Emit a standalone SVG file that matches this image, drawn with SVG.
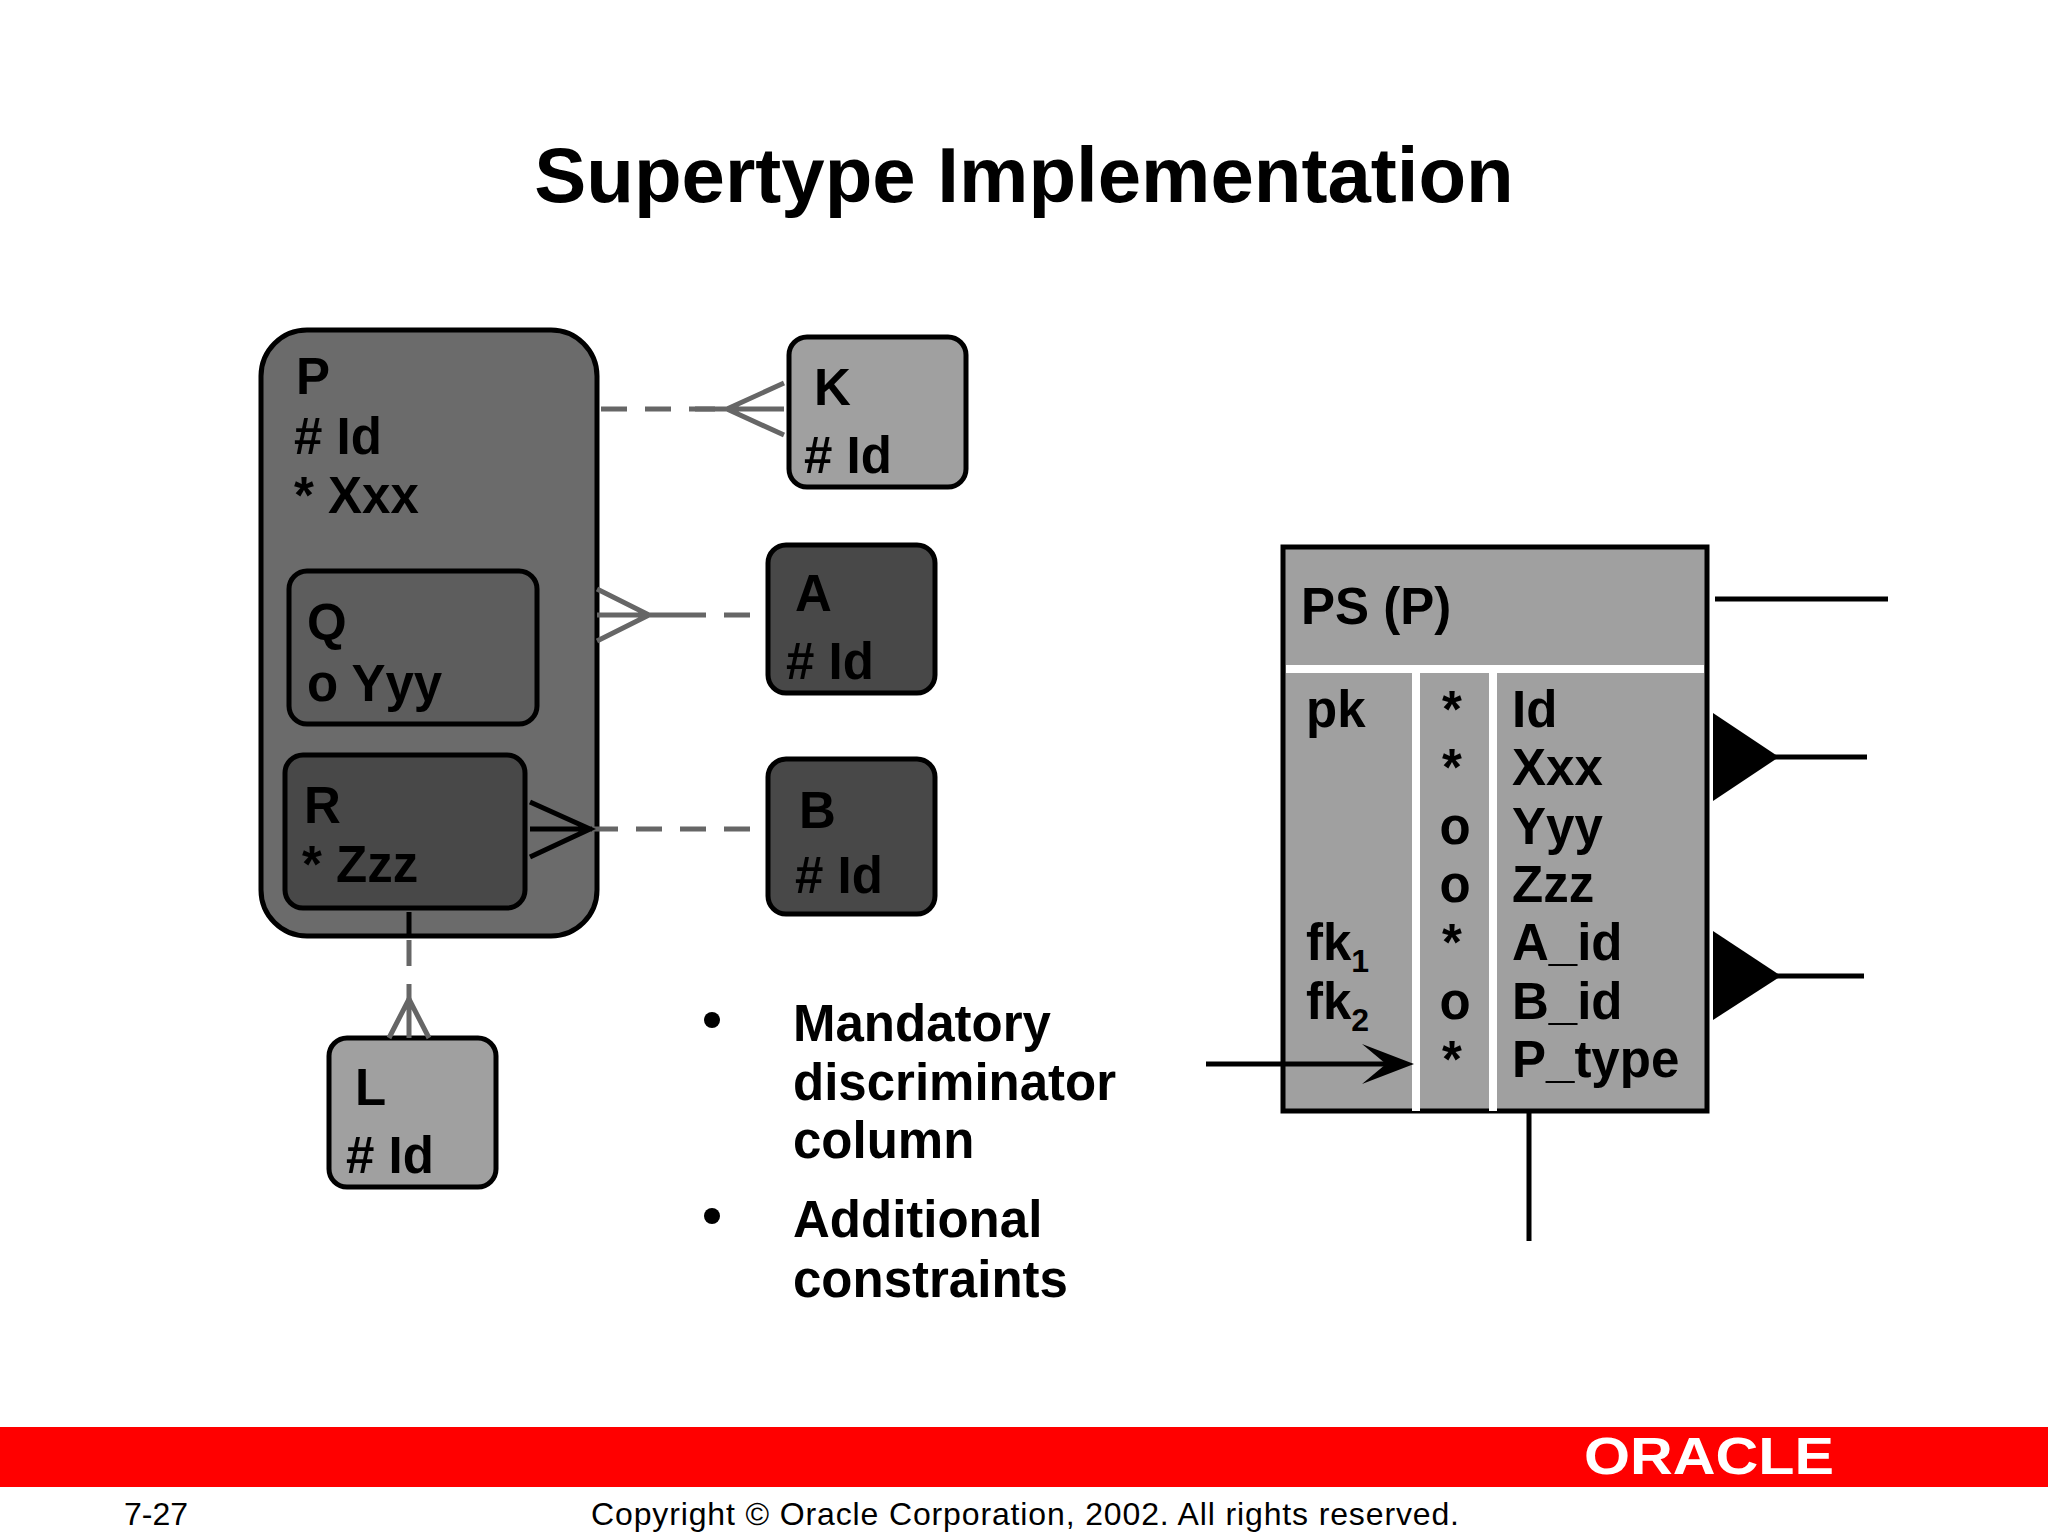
<svg xmlns="http://www.w3.org/2000/svg" width="2048" height="1536" viewBox="0 0 2048 1536">
<style>
text{font-family:"Liberation Sans",Arial,sans-serif;font-weight:bold;fill:#000}
.t{font-size:51px}
.box{stroke:#000;stroke-width:5}
.g{stroke:#666;stroke-width:5;fill:none}
.gd{stroke:#666;stroke-width:5;fill:none;stroke-dasharray:26 18}
.k{stroke:#000;stroke-width:5;fill:none}
.w{stroke:#fff;stroke-width:8}
</style>
<rect width="2048" height="1536" fill="#fff"/>
<text x="1024" y="202" font-size="78" text-anchor="middle">Supertype Implementation</text>

<g id="P"><rect class="box" x="261" y="330" width="336" height="606" rx="46" fill="#6b6b6b"/>
<text class="t" x="296" y="394">P</text><text class="t" x="294" y="454"># Id</text><text class="t" x="294" y="513">* Xxx</text></g>
<g id="Q"><rect class="box" x="289" y="571" width="248" height="153" rx="18" fill="#5d5d5d"/>
<text class="t" x="307" y="640">Q</text><text class="t" x="307" y="701">o Yyy</text></g>
<g id="R"><rect class="box" x="285" y="755" width="240" height="153" rx="18" fill="#484848"/>
<text class="t" x="304" y="823">R</text><text class="t" x="302" y="882">* Zzz</text></g>
<g id="K"><rect class="box" x="789" y="337" width="177" height="150" rx="18" fill="#a0a0a0"/>
<text class="t" x="814" y="405">K</text><text class="t" x="804" y="473"># Id</text></g>
<g id="A"><rect class="box" x="768" y="545" width="167" height="148" rx="18" fill="#484848"/>
<text class="t" x="795" y="611">A</text><text class="t" x="786" y="679"># Id</text></g>
<g id="B"><rect class="box" x="768" y="759" width="167" height="155" rx="18" fill="#484848"/>
<text class="t" x="799" y="828">B</text><text class="t" x="795" y="893"># Id</text></g>
<g id="L"><rect class="box" x="329" y="1038" width="167" height="149" rx="18" fill="#a0a0a0"/>
<text class="t" x="355" y="1105">L</text><text class="t" x="346" y="1173"># Id</text></g>

<g id="PS">
<rect class="box" x="1283" y="547" width="424" height="564" fill="#a0a0a0"/>
<line class="w" x1="1286" y1="669" x2="1704" y2="669"/>
<line class="w" x1="1416" y1="673" x2="1416" y2="1111"/>
<line class="w" x1="1493" y1="673" x2="1493" y2="1111"/>
<text class="t" x="1301" y="624">PS (P)</text>
<text class="t" x="1306" y="727">pk</text>
<text class="t" x="1306" y="960">fk<tspan font-size="32" dy="12">1</tspan></text>
<text class="t" x="1306" y="1019">fk<tspan font-size="32" dy="12">2</tspan></text>
<g text-anchor="middle" class="t">
<text x="1452" y="727">*</text><text x="1452" y="785">*</text><text x="1455" y="844">o</text><text x="1455" y="902">o</text><text x="1452" y="960">*</text><text x="1455" y="1019">o</text><text x="1452" y="1077">*</text></g>
<text class="t" x="1512" y="727">Id</text><text class="t" x="1512" y="785">Xxx</text><text class="t" x="1512" y="844">Yyy</text><text class="t" x="1512" y="902">Zzz</text><text class="t" x="1512" y="960">A_id</text><text class="t" x="1512" y="1019">B_id</text><text class="t" x="1512" y="1077">P_type</text>
</g>

<g id="connectors">
<line class="gd" x1="601" y1="409" x2="727" y2="409"/>
<path class="g" d="M695 409H784M784 383L727 409L784 435"/>
<line class="gd" x1="680" y1="615" x2="768" y2="615"/>
<path class="g" d="M597 615H680M597 589L649 615L597 641"/>
<line class="gd" x1="592" y1="829" x2="768" y2="829"/>
<path class="k" d="M530 829H592M530 802L590 829L530 857"/>
<line class="k" x1="409" y1="912" x2="409" y2="936"/>
<line class="gd" x1="409" y1="940" x2="409" y2="999"/>
<path class="g" d="M409 999V1038M389 1038L409 999L429 1038"/>
<line class="k" x1="1206" y1="1064" x2="1400" y2="1064" stroke-width="7"/>
<path d="M1414 1064L1362 1044L1386 1064L1362 1084Z" fill="#000"/>
<line class="k" x1="1715" y1="599" x2="1888" y2="599"/>
<path d="M1713 713L1713 801L1779 757Z" fill="#000"/><line class="k" x1="1775" y1="757" x2="1867" y2="757"/>
<path d="M1713 931L1713 1020L1781 976Z" fill="#000"/><line class="k" x1="1777" y1="976" x2="1864" y2="976"/>
<line class="k" x1="1529" y1="1111" x2="1529" y2="1241"/>
</g>

<g id="bullets">
<circle cx="712" cy="1020" r="8" fill="#000"/>
<text class="t" x="793" y="1041">Mandatory</text><text class="t" x="793" y="1100">discriminator</text><text class="t" x="793" y="1158">column</text>
<circle cx="712" cy="1216" r="8" fill="#000"/>
<text class="t" x="793" y="1237">Additional</text><text class="t" x="793" y="1297">constraints</text>
</g>

<rect x="0" y="1427" width="2048" height="60" fill="#ff0000"/>
<text x="1584" y="1474" font-size="52" style="fill:#fff" textLength="250" lengthAdjust="spacingAndGlyphs">ORACLE</text>
<text x="124" y="1525" font-size="32" style="font-weight:normal">7-27</text>
<text x="1025" y="1525" font-size="32" text-anchor="middle" style="font-weight:normal" textLength="868">Copyright © Oracle Corporation, 2002. All rights reserved.</text>
</svg>
